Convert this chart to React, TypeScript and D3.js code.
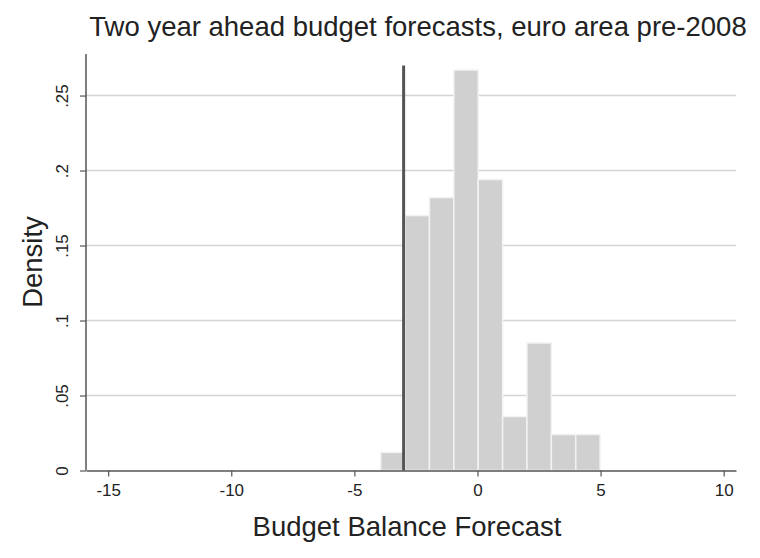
import React, { useEffect, useRef } from 'react';
import * as d3 from 'd3';

// histogram of two year ahead budget balance forecasts
const binStart = -3.93;
const binWidth = 0.99;
const densities = [0.0121, 0.170, 0.182, 0.267, 0.194, 0.036, 0.085, 0.024, 0.024];

const xTicks = [-15, -10, -5, 0, 5, 10];
const yTicks = [0, 0.05, 0.1, 0.15, 0.2, 0.25];
const yTickLabels = ['0', '.05', '.1', '.15', '.2', '.25'];

const limitLine = -3;
const limitTop = 0.27;

const title = 'Two year ahead budget forecasts, euro area pre-2008';
const xTitle = 'Budget Balance Forecast';
const yTitle = 'Density';

export default function App() {
  const svgRef = useRef<SVGSVGElement>(null);

  useEffect(() => {
    const svg = d3.select(svgRef.current);
    svg.selectAll('*').remove();

    const font = '"Liberation Sans", Arial, Helvetica, sans-serif';
    const x = d3.scaleLinear().domain([-15.9, 10.5]).range([86, 736]);
    const y = d3.scaleLinear().domain([0, 0.2767]).range([470.5, 55.5]);

    svg.append('rect').attr('width', 760).attr('height', 558).attr('fill', '#fff');

    // gridlines
    svg.append('g')
      .selectAll('line')
      .data(yTicks.slice(1))
      .enter().append('line')
      .attr('x1', x.range()[0])
      .attr('x2', x.range()[1])
      .attr('y1', d => y(d))
      .attr('y2', d => y(d))
      .attr('stroke', '#d4d4d4')
      .attr('stroke-width', 1.5);

    // bars
    svg.append('g')
      .selectAll('rect')
      .data(densities)
      .enter().append('rect')
      .attr('x', (d, i) => x(binStart + i * binWidth))
      .attr('width', (d, i) => x(binStart + (i + 1) * binWidth) - x(binStart + i * binWidth))
      .attr('y', d => y(d))
      .attr('height', d => y(0) - y(d))
      .attr('fill', '#d0d0d0')
      .attr('stroke', '#f2f2f2')
      .attr('stroke-width', 1.5);

    // -3% line
    svg.append('line')
      .attr('x1', x(limitLine))
      .attr('x2', x(limitLine))
      .attr('y1', y(limitTop))
      .attr('y2', y(0))
      .attr('stroke', '#555')
      .attr('stroke-width', 3);

    // axes
    const xAxis = svg.append('g').attr('transform', `translate(0,${y(0)})`)
      .call(d3.axisBottom(x).tickValues(xTicks).tickSize(6).tickSizeOuter(0).tickFormat(d => String(d)));
    xAxis.select('.domain').attr('stroke', '#555').attr('stroke-width', 1.5);
    xAxis.selectAll('.tick line').attr('stroke', '#555').attr('stroke-width', 1.2);
    xAxis.selectAll('.tick text')
      .attr('font-family', font)
      .attr('font-size', 17)
      .attr('fill', '#222')
      .attr('y', 10)
      .attr('dy', '0.9em');

    const yAxis = svg.append('g').attr('transform', `translate(${x.range()[0]},0)`)
      .call(d3.axisLeft(y).tickValues(yTicks).tickSize(6).tickSizeOuter(0)
        .tickFormat((d, i) => yTickLabels[i]));
    yAxis.select('.domain').attr('stroke', '#555').attr('stroke-width', 1.5)
      .attr('d', `M0,${y(0)}V54`);
    yAxis.selectAll('.tick line').attr('stroke', '#555').attr('stroke-width', 1.2);
    yAxis.selectAll('.tick text')
      .attr('font-family', font)
      .attr('font-size', 17)
      .attr('fill', '#222')
      .attr('x', null)
      .attr('dy', null)
      .attr('text-anchor', 'middle')
      .attr('transform', 'translate(-18,0) rotate(-90)')
      .attr('y', 0);

    // titles
    svg.append('text')
      .attr('x', 418).attr('y', 36)
      .attr('text-anchor', 'middle')
      .attr('font-family', font)
      .attr('font-size', 27.5)
      .attr('fill', '#222')
      .text(title);

    svg.append('text')
      .attr('x', 407).attr('y', 536)
      .attr('text-anchor', 'middle')
      .attr('font-family', font)
      .attr('font-size', 27.5)
      .attr('fill', '#222')
      .text(xTitle);

    svg.append('text')
      .attr('transform', `translate(42,${262}) rotate(-90)`)
      .attr('text-anchor', 'middle')
      .attr('font-family', font)
      .attr('font-size', 27.5)
      .attr('fill', '#222')
      .text(yTitle);
  }, []);

  return (
    <svg ref={svgRef} width={760} height={558} style={{ position: 'absolute', left: 0, top: 0 }} />
  );
}
